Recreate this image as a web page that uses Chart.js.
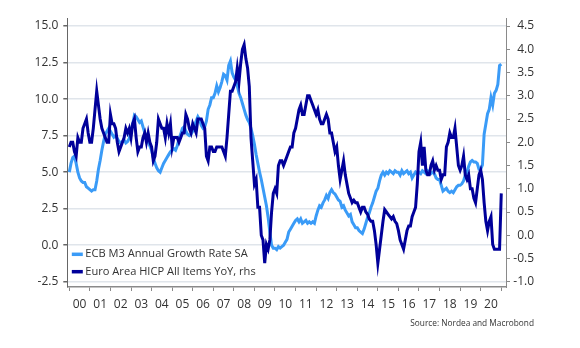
<!DOCTYPE html>
<html><head><meta charset="utf-8">
<script src="https://cdn.jsdelivr.net/npm/chart.js@4.4.1/dist/chart.umd.min.js"></script>
<style>
html,body{margin:0;padding:0;background:#fff;}
#wrap{position:relative;width:580px;height:348px;overflow:hidden;}
#c{position:absolute;left:0;top:0;}
#src{position:absolute;right:46px;top:317px;font:8.3px 'Open Sans',sans-serif;color:#333;white-space:nowrap;}
</style></head><body>
<div id="wrap"><canvas id="c" width="580" height="348"></canvas><div id="src">Source: Nordea and Macrobond</div></div>
<script>
// ---- data (monthly, Jan 2000 .. Jan 2021) ----
const startYear = 2000;
const yearLabels = ['00','01','02','03','04','05','06','07','08','09','10','11','12','13','14','15','16','17','18','19','20'];
const seriesNames = ['ECB M3 Annual Growth Rate SA', 'Euro Area HICP All Items YoY, rhs'];
const m3Growth = [
  5.0, 5.6, 6.0, 6.1, 5.6, 5.0, 4.6, 4.4, 4.3, 4.3, 4.0, 3.9,
  3.8, 3.7, 3.8, 3.8, 4.4, 5.2, 5.8, 6.5, 7.1, 7.6, 7.8, 8.0,
  7.8, 7.6, 7.4, 7.5, 7.3, 7.1, 7.0, 7.1, 7.2, 7.0, 7.1, 7.3,
  7.9, 8.3, 8.9, 8.8, 8.6, 8.4, 8.5, 8.1, 7.7, 7.5, 7.1, 6.8,
  6.5, 6.0, 5.6, 5.3, 5.1, 5.0, 5.3, 5.6, 5.8, 6.0, 6.2, 6.4,
  6.5, 6.6, 6.5, 6.8, 7.3, 7.6, 8.0, 8.1, 7.8, 7.6, 7.5, 7.6,
  7.8, 8.2, 8.5, 8.8, 8.6, 8.2, 8.0, 8.1, 8.5, 9.3, 9.6, 10.1,
  10.1, 10.4, 10.9, 10.5, 10.8, 11.2, 11.7, 11.6, 11.3, 12.3, 12.6, 11.8,
  11.5, 11.3, 10.9, 10.4, 10.1, 9.7, 9.3, 8.9, 8.6, 8.4, 8.0, 7.5,
  6.9, 6.2, 5.6, 5.0, 4.5, 3.9, 3.3, 2.7, 1.9, 0.9, 0.0, -0.2,
  -0.2, -0.3, -0.1, -0.2, -0.1, 0.0, 0.2, 0.4, 0.9, 1.1, 1.3, 1.5,
  1.7, 1.8, 1.6, 1.8, 1.5, 1.6, 1.7, 1.5, 1.6, 1.5, 1.6, 1.5,
  2.0, 2.4, 2.7, 2.6, 2.9, 3.1, 3.4, 3.2, 3.6, 3.8, 3.6, 3.5,
  3.3, 3.1, 3.0, 2.6, 2.7, 2.4, 2.2, 2.0, 2.1, 1.6, 1.4, 1.2,
  1.2, 1.0, 0.9, 0.8, 1.1, 1.5, 1.9, 2.2, 2.6, 2.9, 3.3, 3.7,
  3.9, 4.4, 4.8, 5.0, 4.8, 5.0, 4.9, 5.1, 5.0, 4.9, 5.1, 5.0,
  5.0, 4.8, 5.1, 4.9, 5.0, 5.1, 4.9, 5.0, 4.6, 4.8, 5.0, 4.9,
  5.0, 4.9, 5.1, 5.0, 4.9, 5.1, 5.0, 4.9, 5.0, 4.9, 4.6, 4.5,
  4.5, 4.1, 3.7, 3.8, 3.9, 3.7, 3.6, 3.7, 3.6, 3.8, 4.0, 4.1,
  4.1, 4.2, 4.4, 4.8, 5.0, 5.4, 5.7, 5.8, 5.7, 5.7, 5.6, 5.2,
  5.2, 5.5, 7.6, 8.3, 9.0, 9.3, 10.1, 9.6, 10.4, 10.6, 11.0, 12.3,
  12.4
];
const hicpYoY = [
  1.9, 2.0, 2.0, 1.8, 1.7, 2.1, 2.0, 2.0, 2.3, 2.4, 2.5, 2.2,
  2.0, 2.0, 2.3, 2.7, 3.1, 2.8, 2.5, 2.3, 2.2, 2.1, 2.0, 2.0,
  2.6, 2.4, 2.4, 2.3, 2.0, 1.8, 1.9, 2.0, 2.1, 2.3, 2.2, 2.3,
  2.1, 2.4, 2.5, 2.1, 1.8, 1.9, 1.9, 2.1, 2.2, 2.0, 2.2, 2.0,
  1.9, 1.6, 1.7, 2.0, 2.5, 2.4, 2.3, 2.3, 2.1, 2.4, 2.2, 2.4,
  1.9, 2.1, 2.1, 2.1, 2.0, 2.1, 2.2, 2.2, 2.6, 2.5, 2.3, 2.2,
  2.4, 2.3, 2.2, 2.5, 2.5, 2.5, 2.4, 2.3, 1.7, 1.6, 1.9, 1.9,
  1.8, 1.8, 1.9, 1.9, 1.9, 1.9, 1.8, 1.7, 2.1, 2.6, 3.1, 3.1,
  3.2, 3.3, 3.6, 3.3, 3.7, 4.0, 4.1, 3.8, 3.6, 3.2, 2.1, 1.6,
  1.1, 1.2, 0.6, 0.6, 0.0, -0.1, -0.6, -0.2, -0.3, -0.1, 0.5, 0.9,
  1.0, 0.9, 1.5, 1.6, 1.6, 1.5, 1.6, 1.7, 1.8, 1.9, 1.9, 2.2,
  2.3, 2.5, 2.7, 2.8, 2.6, 2.6, 2.8, 3.0, 3.0, 2.9, 2.8, 2.7,
  2.6, 2.7, 2.5, 2.4, 2.4, 2.5, 2.6, 2.5, 2.2, 2.2, 2.0, 1.8,
  1.9, 1.5, 1.2, 1.4, 1.6, 1.3, 1.1, 0.9, 0.8, 0.7, 0.75, 0.7,
  0.7, 0.6, 0.5, 0.6, 0.6, 0.5, 0.45, 0.35, 0.3, 0.3, 0.1, -0.2,
  -0.6, -0.3, 0.0, 0.3, 0.55, 0.5, 0.45, 0.4, 0.35, 0.4, 0.3, 0.25,
  0.1, -0.1, -0.2, -0.3, -0.1, 0.1, 0.2, 0.2, 0.4, 0.5, 0.6, 1.1,
  1.8, 2.0, 1.5, 1.9, 1.4, 1.3, 1.3, 1.5, 1.6, 1.4, 1.5, 1.4,
  1.4, 1.2, 1.3, 1.3, 1.9, 2.0, 2.2, 2.1, 2.1, 2.3, 1.9, 1.5,
  1.4, 1.5, 1.7, 1.3, 1.2, 1.3, 1.0, 1.0, 0.8, 0.7, 1.0, 1.3,
  1.4, 1.2, 0.7, 0.3, 0.1, 0.3, 0.4, -0.2, -0.3, -0.3, -0.3, -0.3,
  0.9
];
const leftTicks = [-2.5, 0, 2.5, 5, 7.5, 10, 12.5, 15];
const rightTicks = [-1.0, -0.5, 0, 0.5, 1.0, 1.5, 2.0, 2.5, 3.0, 3.5, 4.0, 4.5];

const colM3 = '#3A9BF7';
const colHicp = '#00009A';
const textCol = '#333333';
const FONT = "'Open Sans', sans-serif";

const toPoints = arr => arr.map((v, i) => ({ x: startYear + i / 12, y: v }));
const yearWidth = 20.57;

const legendPlugin = {
  id: 'insideLegend',
  afterDraw(chart) {
    const ctx = chart.ctx, ca = chart.chartArea;
    const items = [0, 1];
    ctx.save();
    ctx.font = '11.1px ' + FONT;
    ctx.textBaseline = 'middle';
    items.forEach((di, k) => {
      const ds = chart.data.datasets[di];
      const y = ca.bottom - 32.7 + k * 17.4;
      ctx.strokeStyle = ds.borderColor;
      ctx.lineWidth = 3.5;
      ctx.beginPath();
      ctx.moveTo(ca.left + 4.5, y);
      ctx.lineTo(ca.left + 15.5, y);
      ctx.stroke();
      ctx.fillStyle = textCol;
      ctx.fillText(ds.label, ca.left + 18, y);
    });
    ctx.restore();
  }
};

new Chart(document.getElementById('c'), {
  type: 'line',
  data: {
    datasets: [
      { label: seriesNames[0], data: toPoints(m3Growth), yAxisID: 'y', borderColor: colM3, backgroundColor: colM3, borderWidth: 3, pointRadius: 0, tension: 0, order: 1 },
      { label: seriesNames[1], data: toPoints(hicpYoY), yAxisID: 'y1', borderColor: colHicp, backgroundColor: colHicp, borderWidth: 3, pointRadius: 0, tension: 0, order: 0 }
    ]
  },
  options: {
    responsive: false,
    animation: false,
    layout: { padding: { top: 18, left: 0, right: 46, bottom: 31 } },
    plugins: { legend: { display: false }, tooltip: { enabled: false } },
    scales: {
      x: {
        type: 'linear',
        min: 1999.903, max: 2021.23,
        afterBuildTicks: s => { s.ticks = yearLabels.concat(['']).map((l, i) => ({ value: startYear + i })); },
        afterFit: s => { s.height = 30; },
        ticks: {
          autoSkip: false, maxRotation: 0, padding: 6,
          labelOffset: yearWidth / 2,
          color: textCol, font: { family: FONT, size: 12 },
          callback: v => yearLabels[Math.round(v) - startYear] || ''
        },
        grid: { display: true, drawOnChartArea: false, drawTicks: true, tickLength: 4, tickColor: '#8a8a8a' },
        border: { display: true, color: '#8a8a8a', width: 1.5 }
      },
      y: {
        position: 'left',
        min: -2.86, max: 15.55,
        afterBuildTicks: s => { s.ticks = leftTicks.map(v => ({ value: v })); },
        afterFit: s => { s.width = 67.3; },
        ticks: { padding: 5, color: textCol, font: { family: FONT, size: 12 }, callback: v => v.toFixed(1) },
        grid: { color: '#e0e5eb', lineWidth: 1.5, tickLength: 4, tickColor: '#666' },
        border: { display: true, color: '#666', width: 1 }
      },
      y1: {
        position: 'right',
        min: -1.113, max: 4.673,
        afterBuildTicks: s => { s.ticks = rightTicks.map(v => ({ value: v })); },
        afterFit: s => { s.width = 28; },
        ticks: { padding: 5, crossAlign: 'far', color: textCol, font: { family: FONT, size: 12 }, callback: v => v.toFixed(1) },
        grid: { drawOnChartArea: false, tickLength: 4, tickColor: '#8a8a8a' },
        border: { display: true, color: '#8a8a8a', width: 1 }
      }
    }
  },
  plugins: [legendPlugin]
});
</script>
</body></html>
